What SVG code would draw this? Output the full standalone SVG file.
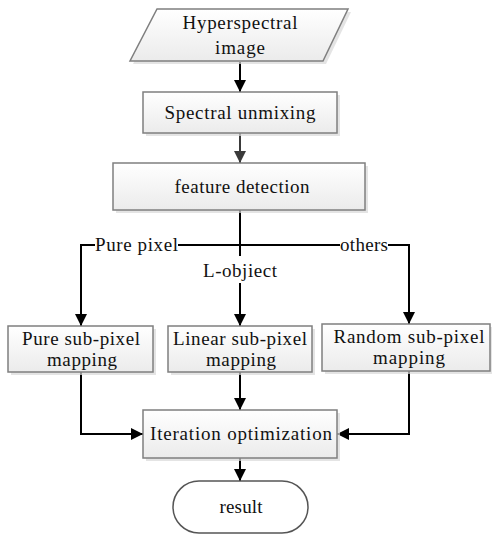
<svg xmlns="http://www.w3.org/2000/svg" width="495" height="535" viewBox="0 0 495 535">
<defs>
<linearGradient id="g" x1="0" y1="0" x2="0" y2="1">
<stop offset="0" stop-color="#ffffff"/>
<stop offset="1" stop-color="#ebebeb"/>
</linearGradient>
<marker id="ah" markerWidth="12" markerHeight="12" viewBox="0 0 12 12" refX="12" refY="6" orient="auto" markerUnits="userSpaceOnUse">
<path d="M0,0 L12,6 L0,12 Z" fill="#000"/>
</marker>
<marker id="ahg" markerWidth="12" markerHeight="12" viewBox="0 0 12 12" refX="12" refY="6" orient="auto" markerUnits="userSpaceOnUse">
<path d="M0,0 L12,6 L0,12 Z" fill="#3a3a3a"/>
</marker>
</defs>
<style>
.box{fill:url(#g);stroke:#7f7f7f;stroke-width:1.5}
.sh{fill:#d9d9d9;stroke:none;opacity:0.7}
.t{font-family:"Liberation Serif","Times New Roman",serif;font-size:19px;fill:#111;text-anchor:middle}
.c{fill:none;stroke:#000;stroke-width:2}
</style>
<rect width="495" height="535" fill="#fff"/>
<g id="connectors">
<line class="c" x1="240" y1="62" x2="240" y2="92" marker-end="url(#ah)"/>
<line class="c" x1="240" y1="133" x2="240" y2="163" style="stroke:#3a3a3a" marker-end="url(#ahg)"/>
<line class="c" x1="240" y1="210" x2="240" y2="256"/>
<path class="c" d="M95,245 H81 V326" marker-end="url(#ah)"/>
<line class="c" x1="178" y1="245" x2="340" y2="245"/>
<path class="c" d="M388,245 H409 V324" marker-end="url(#ah)"/>
<line class="c" x1="240" y1="283" x2="240" y2="326" marker-end="url(#ah)"/>
<path class="c" d="M81,372 V434 H143" marker-end="url(#ah)"/>
<line class="c" x1="240" y1="372" x2="240" y2="410" marker-end="url(#ah)"/>
<path class="c" d="M409,371 V434 H337" marker-end="url(#ah)"/>
<line class="c" x1="240" y1="458" x2="240" y2="481" marker-end="url(#ah)"/>
<text class="t" x="136.5" y="251" textLength="83" lengthAdjust="spacing">Pure pixel</text>
<text class="t" x="364" y="251" textLength="48" lengthAdjust="spacing">others</text>
<text class="t" x="240" y="277" textLength="74" lengthAdjust="spacing">L-objiect</text>
</g>
<g id="hyperspectral">
<polygon class="sh" points="160,12 351,12 326,64 133,64"/>
<polygon class="box" points="157,9 348,9 323,61 130,61"/>
<text class="t" x="240" y="29" textLength="115" lengthAdjust="spacing">Hyperspectral</text>
<text class="t" x="240" y="54" textLength="50" lengthAdjust="spacing">image</text>
</g>
<g id="spectral">
<rect class="sh" x="146" y="95" width="194" height="41"/>
<rect class="box" x="143" y="92" width="194" height="41"/>
<text class="t" x="240" y="119" textLength="151" lengthAdjust="spacing">Spectral unmixing</text>
</g>
<g id="feature">
<rect class="sh" x="116" y="166" width="252" height="47"/>
<rect class="box" x="113" y="163" width="252" height="47"/>
<text class="t" x="242" y="193" textLength="135" lengthAdjust="spacing">feature detection</text>
</g>
<g id="pure">
<rect class="sh" x="11" y="329" width="145" height="46"/>
<rect class="box" x="8" y="326" width="145" height="46"/>
<text class="t" x="81" y="345" textLength="118" lengthAdjust="spacing">Pure sub-pixel</text>
<text class="t" x="82" y="366" textLength="70" lengthAdjust="spacing">mapping</text>
</g>
<g id="linear">
<rect class="sh" x="171" y="329" width="144" height="46"/>
<rect class="box" x="168" y="326" width="144" height="46"/>
<text class="t" x="240" y="345" textLength="134" lengthAdjust="spacing">Linear sub-pixel</text>
<text class="t" x="241" y="366" textLength="70" lengthAdjust="spacing">mapping</text>
</g>
<g id="random">
<rect class="sh" x="325" y="327" width="167" height="47"/>
<rect class="box" x="322" y="324" width="168" height="47"/>
<text class="t" x="409" y="343" textLength="151" lengthAdjust="spacing">Random sub-pixel</text>
<text class="t" x="409" y="364" textLength="72" lengthAdjust="spacing">mapping</text>
</g>
<g id="iteration">
<rect class="sh" x="146" y="413" width="194" height="48"/>
<rect class="box" x="143" y="410" width="194" height="48"/>
<text class="t" x="241" y="440" textLength="182" lengthAdjust="spacing">Iteration  optimization</text>
</g>
<g id="result">
<rect class="box" x="173" y="481" width="135" height="52" rx="26" ry="26" style="fill:#fff;stroke:#555"/>
<text class="t" x="241" y="513" textLength="43" lengthAdjust="spacing">result</text>
</g>
</svg>
